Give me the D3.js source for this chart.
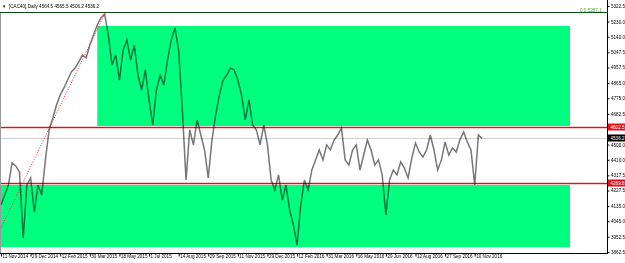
<!DOCTYPE html>
<html>
<head>
<meta charset="utf-8">
<script src="https://cdn.jsdelivr.net/npm/d3@7/dist/d3.min.js"></script>
<style>
    html, body { margin: 0; padding: 0; background: #fff; }
    svg { display: block; font-family: "Liberation Sans", Arial, sans-serif; }
</style>
</head>
<body>
<div id="chart"></div>
<script>
'use strict';

// Header of the chart window: symbol and the last bar (open, high, low, close).
var symbolName = '[CAC40],Daily';
var lastBar    = [4564.5, 4565.5, 4506.2, 4536.2];

// One date label every 32 bars.
var barsPerLabel = 32;
var dateLabels   = [
    '11 Nov 2014', '29 Dec 2014', '12 Feb 2015', '30 Mar 2015', '18 May 2015', '1 Jul 2015',
    '14 Aug 2015', '29 Sep 2015', '11 Nov 2015', '29 Dec 2015', '12 Feb 2016', '31 Mar 2016',
    '16 May 2016', '29 Jun 2016', '12 Aug 2016', '27 Sep 2016', '10 Nov 2016'
];

// Price read every 4 bars.
var barStep = 4;
var prices  = [
    4141, 4201, 4260, 4391, 4373, 4337, 3946, 4260, 4302, 4100,
    4260, 4201, 4409, 4587, 4658, 4735, 4794, 4836, 4883, 4931,
    4955, 4990, 5032, 5014, 5091, 5150, 5210, 5251, 5275, 5150,
    4972, 5032, 4883, 5061, 5121, 5002, 5091, 4913, 4824, 4943,
    4765, 4616, 4824, 4913, 4854, 5002, 5121, 5192, 5061, 4705,
    4290, 4587, 4498, 4646, 4557, 4468, 4302, 4527, 4676, 4794,
    4883, 4913, 4955, 4943, 4883, 4794, 4646, 4765, 4616, 4587,
    4498, 4616, 4498, 4290, 4231, 4320, 4171, 4260, 4112, 4023,
    3904, 4141, 4290, 4231, 4349, 4409, 4468, 4409, 4498, 4468,
    4527, 4557, 4598, 4409, 4379, 4468, 4498, 4349, 4438, 4527,
    4468, 4379, 4409, 4320, 4082, 4290, 4349, 4320, 4397, 4361,
    4302, 4420, 4509, 4456, 4426, 4468, 4557, 4468, 4349, 4409,
    4515, 4438, 4480, 4456, 4527, 4575, 4515, 4468, 4260, 4557,
    4536.2
];

// Right price scale.
var priceTicks = [
    5322.5, 5230.0, 5140.0, 5047.5, 4957.5, 4865.0, 4775.0, 4682.5, 4592.5,
    4500.0, 4410.0, 4317.5, 4227.5, 4135.0, 4045.0, 3952.5, 3862.5
];

// Objects on the chart: [bar from, bar to, price low, price high].
var zoneUpper  = [104, 615, 4602.5, 5203.8];
var zoneLower  = [0, 615, 3890.4, 4269.8];
var levels     = [4602.5, 4269.8];
var trendLine  = [[0, 4005.0], [112, 5275.0]];
var fiboLevel  = [0.0, 5287.1];

var PriceChart = function (selector, options) {
    this.initialize(selector, options);
};

PriceChart.prototype = {
    initialize: function (selector, options) {
        this.options = Object.assign({
            width:    625,
            height:   263,
            axisX:    607.5,
            axisY:    253.5,
            fontSize: 4.6,
            zone:     '#00ff7f',
            level:    '#e3101a'
        }, options || {});

        this.svg = d3.select(selector).append('svg')
            .attr('width', this.options.width)
            .attr('height', this.options.height);
    },

    update: function () {
        var o   = this.options,
            svg = this.svg,
            x, y, fmt = d3.format('.1f');

        x = d3.scaleLinear().domain([0, 655]).range([1, o.axisX - 0.5]);
        y = d3.scaleLinear().domain([3862.5, 5322.5]).range([252, 6]);

        // Zones (drawn first, the bars darken on top of them).
        svg.selectAll('.zone')
            .data([zoneUpper, zoneLower])
            .enter().append('rect')
            .attr('class', 'zone')
            .attr('x', function (d) { return x(d[0]); })
            .attr('y', function (d) { return y(d[3]); })
            .attr('width', function (d) { return x(d[1]) - x(d[0]); })
            .attr('height', function (d) { return y(d[2]) - y(d[3]); })
            .attr('fill', o.zone);

        // Fibo 0.0 level.
        svg.append('line')
            .attr('x1', 0).attr('x2', o.axisX)
            .attr('y1', Math.round(y(fiboLevel[1])) + 0.5).attr('y2', Math.round(y(fiboLevel[1])) + 0.5)
            .attr('stroke', '#0b4f16');
        svg.append('text')
            .attr('x', 580).attr('y', Math.round(y(fiboLevel[1])) - 0.5)
            .attr('font-size', o.fontSize).attr('fill', '#58a83a')
            .text(fmt(fiboLevel[0]) + '    ' + fmt(fiboLevel[1]));

        // Current price line.
        svg.append('line')
            .attr('x1', 0).attr('x2', o.axisX)
            .attr('y1', Math.round(y(lastBar[3])) + 0.5).attr('y2', Math.round(y(lastBar[3])) + 0.5)
            .attr('stroke', '#cfcfcf');

        // Horizontal levels with a soft halo.
        levels.forEach(function (v) {
            var ly = Math.round(y(v)) + 0.5;
            svg.append('line')
                .attr('x1', 0).attr('x2', o.axisX).attr('y1', ly).attr('y2', ly)
                .attr('stroke', '#f7c9c9').attr('stroke-width', 3);
            svg.append('line')
                .attr('x1', 0).attr('x2', o.axisX).attr('y1', ly).attr('y2', ly)
                .attr('stroke', o.level).attr('stroke-width', 1.1);
        });

        // Price line, multiplied so it turns dark green over the zones.
        svg.append('path')
            .datum(prices)
            .attr('fill', 'none')
            .attr('stroke', '#777')
            .attr('stroke-width', 1.5)
            .style('mix-blend-mode', 'multiply')
            .attr('d', d3.line()
                .x(function (d, i) { return x(i * barStep); })
                .y(function (d) { return y(d); }));

        // Dotted trend line.
        svg.append('line')
            .attr('x1', x(trendLine[0][0])).attr('y1', y(trendLine[0][1]))
            .attr('x2', x(trendLine[1][0])).attr('y2', y(trendLine[1][1]))
            .attr('stroke', '#ff2a2a').attr('stroke-width', 1)
            .attr('stroke-dasharray', '1,1.6');

        // Frame on the left.
        svg.append('line')
            .attr('x1', 0.5).attr('x2', 0.5).attr('y1', 13).attr('y2', o.axisY)
            .attr('stroke', '#9a9a9a');

        // Bottom (date) axis.
        var xAxis = svg.append('g')
            .attr('class', 'axis')
            .attr('transform', 'translate(0,' + o.axisY + ')')
            .call(d3.axisBottom(x)
                .tickValues(dateLabels.map(function (d, i) { return i * barsPerLabel; }))
                .tickFormat(function (d, i) { return dateLabels[i]; })
                .tickSize(3)
                .tickSizeOuter(0));
        xAxis.select('.domain').attr('d', 'M0,0H' + o.axisX).attr('stroke', '#000');
        xAxis.selectAll('.tick line').attr('stroke', '#000');
        xAxis.selectAll('text')
            .attr('text-anchor', 'start')
            .attr('x', 1)
            .attr('y', 1.5)
            .attr('font-size', o.fontSize)
            .attr('font-family', null)
            .attr('fill', '#000');

        // Price labels on the scale.
        var tags = levels.map(function (v) { return {value: v, color: o.level}; });
        tags.push({value: lastBar[3], color: '#000'});

        // Right (price) axis; tick labels hidden under a price tag are dropped.
        var yAxis = svg.append('g')
            .attr('class', 'axis')
            .attr('transform', 'translate(' + o.axisX + ',0)')
            .call(d3.axisRight(y)
                .tickValues(priceTicks)
                .tickFormat(fmt)
                .tickSize(2)
                .tickSizeOuter(0));
        yAxis.select('.domain').attr('d', 'M0,0V' + (o.axisY + 0.5)).attr('stroke', '#000');
        yAxis.selectAll('.tick line').attr('stroke', '#000');
        yAxis.selectAll('text')
            .attr('x', 3.5)
            .attr('font-size', o.fontSize)
            .attr('font-family', null)
            .attr('fill', '#000');
        yAxis.selectAll('.tick text')
            .filter(function (d) {
                return tags.some(function (t) { return Math.abs(y(t.value) - y(d)) < 6; });
            })
            .remove();

        var tag = svg.selectAll('.tag')
            .data(tags)
            .enter().append('g')
            .attr('class', 'tag')
            .attr('transform', function (d) { return 'translate(' + (o.axisX + 0.5) + ',' + Math.round(y(d.value)) + ')'; });
        tag.append('rect')
            .attr('x', 0).attr('y', -3.5).attr('width', 17).attr('height', 7)
            .attr('fill', function (d) { return d.color; });
        tag.append('text')
            .attr('x', 2.5).attr('y', 0).attr('dy', '0.34em')
            .attr('font-size', o.fontSize)
            .attr('fill', '#fff')
            .text(function (d) { return fmt(d.value); });

        // Window header.
        svg.append('text')
            .attr('x', 2).attr('y', 7.5)
            .attr('font-size', 4.2)
            .attr('fill', '#000')
            .text('\u25BC');
        svg.append('text')
            .attr('x', 9).attr('y', 7.5)
            .attr('font-size', o.fontSize)
            .attr('fill', '#000')
            .text(symbolName + '  ' + lastBar.map(fmt).join(' '));

        return this;
    }
};

new PriceChart('#chart').update();
</script>
</body>
</html>
